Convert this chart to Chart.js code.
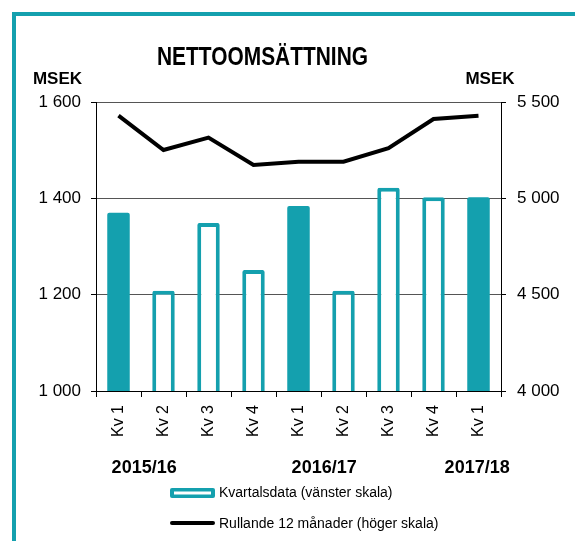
<!DOCTYPE html>
<html>
<head>
<meta charset="utf-8">
<script src="https://cdn.jsdelivr.net/npm/chart.js@4/dist/chart.umd.min.js"></script>
<style>
    html, body { margin: 0; padding: 0; background: #fff; overflow: hidden; }
    #wrap { position: relative; width: 575px; height: 541px; }
    #frame { position: absolute; left: 12px; top: 12px; width: 620px; height: 620px; border: 4px solid #14a0ae; }
    #chart { position: absolute; left: 0; top: 0; }
</style>
</head>
<body>
<div id="wrap">
    <div id="frame"></div>
    <canvas id="chart" width="575" height="541"></canvas>
</div>
<script>
// ========== DATA ==========
const categories = ['Kv 1', 'Kv 2', 'Kv 3', 'Kv 4', 'Kv 1', 'Kv 2', 'Kv 3', 'Kv 4', 'Kv 1'];
const quarterly = [1370, 1208, 1349, 1251, 1384, 1208, 1422, 1402, 1402];
const rolling12 = [5429, 5251, 5315, 5173, 5190, 5190, 5260, 5412, 5429];
const filledBars = [true, false, false, false, true, false, false, false, true];
const yearLabels = ['2015/16', '2016/17', '2017/18'];
const yearAt = [0.57, 4.57, 7.97];   // position in category units
const leftTicks = [1000, 1200, 1400, 1600];
const rightTicks = [4000, 4500, 5000, 5500];

const TEAL = '#14a0ae';
const FONT = '"Liberation Sans", Arial, sans-serif';

function fmt(v) {
    return String(v).replace(/\B(?=(\d{3})+(?!\d))/g, ' ');
}

// Title, MSEK labels, year labels and legend
const extrasPlugin = {
    id: 'extras',
    afterDraw(chart) {
        const ctx = chart.ctx;
        const x = chart.scales.x;
        ctx.save();
        ctx.fillStyle = '#000';

        // title, squeezed horizontally like the original
        ctx.font = 'bold 25px ' + FONT;
        const title = 'NETTOOMSÄTTNING';
        const w = ctx.measureText(title).width;
        ctx.save();
        ctx.translate(262.5, 65);
        ctx.scale(211 / w, 1);
        ctx.textAlign = 'center';
        ctx.textBaseline = 'alphabetic';
        ctx.fillText(title, 0, 0);
        ctx.restore();

        // unit labels
        ctx.font = 'bold 17px ' + FONT;
        ctx.textAlign = 'center';
        ctx.fillText('MSEK', 57.5, 84);
        ctx.fillText('MSEK', 490, 84);

        // year labels under the quarters
        ctx.font = 'bold 18px ' + FONT;
        const step = x.getPixelForValue(1) - x.getPixelForValue(0);
        yearLabels.forEach((t, i) => {
            const px = x.getPixelForValue(0) + yearAt[i] * step;
            ctx.fillText(t, px, 473);
        });

        // legend
        const ds = chart.data.datasets;
        ctx.font = '14px ' + FONT;
        ctx.textAlign = 'left';
        ctx.textBaseline = 'middle';

        ctx.fillStyle = TEAL;
        ctx.beginPath();
        ctx.roundRect(170, 488, 45, 10, 2);
        ctx.fill();
        ctx.fillStyle = '#fff';
        ctx.fillRect(174, 491.5, 37, 3);
        ctx.fillStyle = '#000';
        ctx.fillText(ds[0].label, 219, 493);

        ctx.strokeStyle = '#000';
        ctx.lineWidth = 4;
        ctx.lineCap = 'round';
        ctx.beginPath();
        ctx.moveTo(172, 523);
        ctx.lineTo(213, 523);
        ctx.stroke();
        ctx.fillText(ds[1].label, 219, 524);

        ctx.restore();
    }
};

const canvas = document.getElementById('chart');
new Chart(canvas, {
    data: {
        labels: categories,
        datasets: [{
            type: 'bar',
            label: 'Kvartalsdata (vänster skala)',
            data: quarterly,
            yAxisID: 'y',
            backgroundColor: filledBars.map(f => f ? TEAL : '#fff'),
            borderColor: TEAL,
            borderWidth: filledBars.map(f => f ? 0 : 4),
            borderRadius: 2,
            borderSkipped: false,
            barPercentage: 0.5,
            categoryPercentage: 1,
            order: 2
        }, {
            type: 'line',
            label: 'Rullande 12 månader (höger skala)',
            data: rolling12,
            yAxisID: 'y2',
            borderColor: '#000',
            borderWidth: 4,
            pointRadius: 0,
            tension: 0,
            fill: false,
            order: 1
        }]
    },
    options: {
        responsive: false,
        animation: false,
        layout: {
            padding: { top: 102, bottom: 100, left: 0, right: 0 }
        },
        plugins: {
            legend: { display: false },
            title: { display: false },
            tooltip: { enabled: false }
        },
        scales: {
            x: {
                grid: {
                    offset: true,
                    drawOnChartArea: false,
                    tickLength: 6,
                    tickColor: '#000'
                },
                border: { display: true, color: '#000', width: 1 },
                ticks: {
                    autoSkip: false,
                    minRotation: 90,
                    maxRotation: 90,
                    padding: 8,
                    color: '#000',
                    font: { family: FONT, size: 16 }
                },
                afterFit: function(scale) { scale.height = 50; }
            },
            y: {
                position: 'left',
                min: leftTicks[0],
                max: leftTicks[leftTicks.length - 1],
                afterBuildTicks: function(scale) {
                    scale.ticks = leftTicks.map(v => ({ value: v }));
                },
                grid: {
                    color: '#555',
                    lineWidth: 1,
                    tickLength: 5,
                    tickColor: '#000'
                },
                border: { display: true, color: '#000', width: 1 },
                ticks: {
                    padding: 10,
                    color: '#000',
                    font: { family: FONT, size: 17 },
                    callback: v => fmt(v)
                },
                afterFit: function(scale) { scale.width = 96; }
            },
            y2: {
                position: 'right',
                min: rightTicks[0],
                max: rightTicks[rightTicks.length - 1],
                afterBuildTicks: function(scale) {
                    scale.ticks = rightTicks.map(v => ({ value: v }));
                },
                grid: {
                    drawOnChartArea: false,
                    tickLength: 5,
                    tickColor: '#000'
                },
                border: { display: true, color: '#000', width: 1 },
                ticks: {
                    padding: 11,
                    color: '#000',
                    font: { family: FONT, size: 17 },
                    callback: v => fmt(v)
                },
                afterFit: function(scale) { scale.width = 74; }
            }
        }
    },
    plugins: [extrasPlugin]
});
</script>
</body>
</html>
